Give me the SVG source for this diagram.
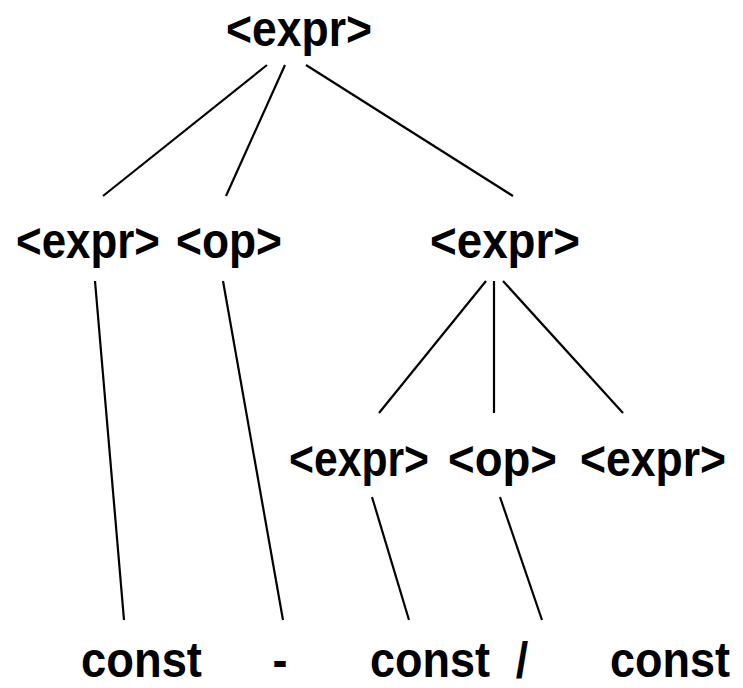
<svg xmlns="http://www.w3.org/2000/svg" width="743" height="688" viewBox="0 0 743 688">
<style>
.t{font-family:"Liberation Sans",Arial,sans-serif;font-weight:bold;font-size:50px;fill:#000;text-anchor:middle}
.e{stroke:#000;stroke-width:2.2;fill:none}
</style>
<rect width="743" height="688" fill="#fff"/>
<g id="connectors">
<line class="e" x1="267" y1="65" x2="103" y2="196"/>
<line class="e" x1="285" y1="65" x2="226" y2="196"/>
<line class="e" x1="306" y1="65" x2="513" y2="196"/>
<line class="e" x1="95" y1="281" x2="124" y2="620"/>
<line class="e" x1="223" y1="281" x2="283" y2="620"/>
<line class="e" x1="486" y1="281" x2="379" y2="413"/>
<line class="e" x1="494" y1="281" x2="494" y2="413"/>
<line class="e" x1="503" y1="281" x2="623" y2="413"/>
<line class="e" x1="372" y1="497" x2="409" y2="620"/>
<line class="e" x1="500" y1="497" x2="542" y2="620"/>
</g>
<g id="n_root"><text class="t" transform="translate(299,46) scale(0.89,1)">&lt;expr&gt;</text></g>
<g id="n_expr_l"><text class="t" transform="translate(88,258) scale(0.878,1)">&lt;expr&gt;</text></g>
<g id="n_op_l"><text class="t" transform="translate(229,258) scale(0.887,1)">&lt;op&gt;</text></g>
<g id="n_expr_r"><text class="t" transform="translate(505,258) scale(0.915,1)">&lt;expr&gt;</text></g>
<g id="n_expr_rl"><text class="t" transform="translate(359,476) scale(0.854,1)">&lt;expr&gt;</text></g>
<g id="n_op_r"><text class="t" transform="translate(502.5,476) scale(0.912,1)">&lt;op&gt;</text></g>
<g id="n_expr_rr"><text class="t" transform="translate(653,476) scale(0.89,1)">&lt;expr&gt;</text></g>
<g id="n_const1"><text class="t" transform="translate(141.5,677) scale(0.907,1)">const</text></g>
<g id="n_minus"><text class="t" transform="translate(280,677) scale(0.9,1)">-</text></g>
<g id="n_const2"><text class="t" transform="translate(430,677) scale(0.9,1)">const</text></g>
<g id="n_slash"><text class="t" transform="translate(522,677) scale(0.9,1)">/</text></g>
<g id="n_const3"><text class="t" transform="translate(670,677) scale(0.9,1)">const</text></g>
</svg>
